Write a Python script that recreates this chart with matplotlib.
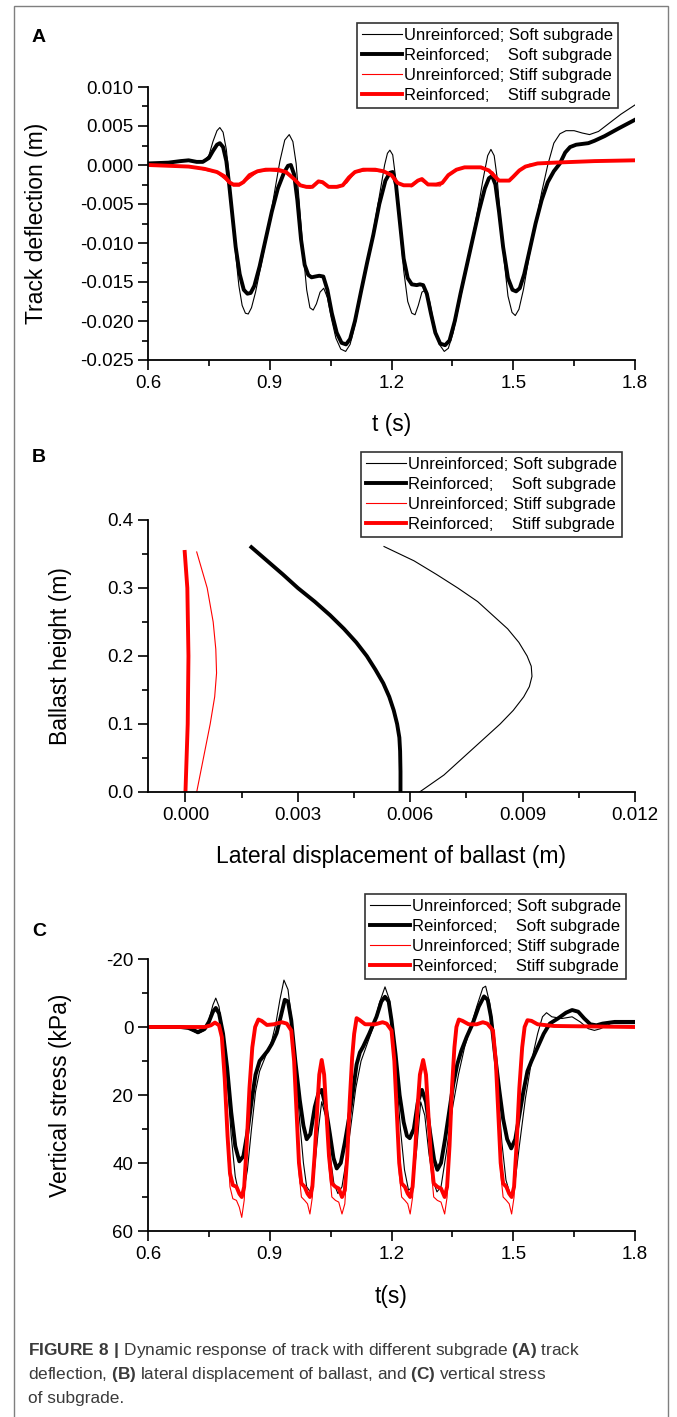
import numpy as np
import matplotlib
matplotlib.use('Agg')
import matplotlib.pyplot as plt
from matplotlib.patches import Rectangle
from matplotlib.ticker import MultipleLocator, FormatStrFormatter, FuncFormatter

plt.rcParams['font.family'] = ['Liberation Sans', 'DejaVu Sans']
plt.rcParams['axes.unicode_minus'] = False
plt.rcParams['mathtext.fontset'] = 'custom'
plt.rcParams['mathtext.rm'] = 'Liberation Sans'
plt.rcParams['mathtext.bf'] = 'Liberation Sans:bold'

labels = ['Unreinforced; Soft subgrade', 'Reinforced;    Soft subgrade',
          'Unreinforced; Stiff subgrade', 'Reinforced;    Stiff subgrade']

# ---- A: track deflection (m) vs t (s)
tA_us = [0.60, 0.65, 0.68, 0.70, 0.72, 0.735, 0.75, 0.76, 0.77, 0.777, 0.785, 0.793, 0.80, 0.808,
         0.816, 0.824, 0.832, 0.84, 0.847, 0.855, 0.865, 0.88, 0.895, 0.91, 0.925, 0.937, 0.948,
         0.957, 0.965, 0.973, 0.982, 0.991, 0.999, 1.007, 1.015, 1.024, 1.033, 1.042, 1.052, 1.063,
         1.075, 1.087, 1.098, 1.11, 1.125, 1.14, 1.155, 1.17, 1.183, 1.19, 1.196, 1.203, 1.211,
         1.22, 1.23, 1.24, 1.25, 1.258, 1.266, 1.275, 1.284, 1.294, 1.305, 1.318, 1.33, 1.34,
         1.352, 1.366, 1.38, 1.395, 1.41, 1.425, 1.437, 1.445, 1.453, 1.46, 1.468, 1.477, 1.487,
         1.497, 1.505, 1.514, 1.525, 1.54, 1.555, 1.57, 1.585, 1.60, 1.615, 1.63, 1.65, 1.67,
         1.688, 1.71, 1.735, 1.765, 1.80]
dA_us = [0.0002, 0.0003, 0.0005, 0.0006, 0.0004, 0.0004, 0.0012, 0.0030, 0.0044, 0.0048, 0.0042,
         0.0020, -0.0015, -0.0065, -0.0115, -0.0155, -0.0180, -0.0190, -0.0191, -0.0183, -0.0163,
         -0.0125, -0.0085, -0.0040, 0.0005, 0.0032, 0.0039, 0.0030, 0.0002, -0.0050, -0.0110,
         -0.0160, -0.0183, -0.0186, -0.0178, -0.0163, -0.0158, -0.0170, -0.0197, -0.0222, -0.0236,
         -0.0239, -0.0230, -0.0205, -0.0165, -0.0125, -0.0085, -0.0040, 0.0000, 0.0015, 0.0019,
         0.0013, -0.0020, -0.0075, -0.0135, -0.0175, -0.0190, -0.0192, -0.0180, -0.0163, -0.0160,
         -0.0175, -0.0205, -0.0230, -0.0239, -0.0235, -0.0215, -0.0180, -0.0145, -0.0105, -0.0065,
         -0.0020, 0.0012, 0.0020, 0.0012, -0.0015, -0.0065, -0.0120, -0.0168, -0.0189, -0.0193,
         -0.0185, -0.0160, -0.0115, -0.0075, -0.0035, 0.0000, 0.0028, 0.0040, 0.0044, 0.0044,
         0.0041, 0.0039, 0.0043, 0.0053, 0.0065, 0.0077]

tA_rs = [0.60, 0.65, 0.68, 0.70, 0.72, 0.735, 0.75, 0.76, 0.77, 0.777, 0.785, 0.793, 0.80, 0.808,
         0.816, 0.826, 0.836, 0.845, 0.853, 0.862, 0.875, 0.89, 0.905, 0.92, 0.935, 0.945, 0.952,
         0.96, 0.968, 0.977, 0.986, 0.995, 1.003, 1.012, 1.022, 1.032, 1.042, 1.053, 1.065, 1.077,
         1.088, 1.098, 1.11, 1.125, 1.14, 1.155, 1.17, 1.185, 1.196, 1.203, 1.211, 1.22, 1.23,
         1.24, 1.25, 1.262, 1.27, 1.278, 1.287, 1.297, 1.308, 1.32, 1.332, 1.343, 1.356, 1.37,
         1.385, 1.40, 1.415, 1.43, 1.44, 1.448, 1.456, 1.465, 1.475, 1.487, 1.498, 1.507, 1.516,
         1.527, 1.54, 1.555, 1.57, 1.585, 1.60, 1.615, 1.628, 1.64, 1.655, 1.67, 1.685, 1.70,
         1.725, 1.76, 1.80]
dA_rs = [0.0002, 0.0003, 0.0005, 0.0006, 0.0004, 0.0004, 0.0009, 0.0018, 0.0026, 0.0028, 0.0023,
         0.0005, -0.0025, -0.0065, -0.0105, -0.0140, -0.0160, -0.0165, -0.0164, -0.0155, -0.0130,
         -0.0095, -0.0060, -0.0030, -0.0010, -0.0001, 0.0000, -0.0012, -0.0045, -0.0095, -0.0128,
         -0.0141, -0.0144, -0.0143, -0.0142, -0.0143, -0.0160, -0.0190, -0.0215, -0.0228, -0.0230,
         -0.0223, -0.0200, -0.0162, -0.0125, -0.0090, -0.0050, -0.0020, -0.0010, -0.0009, -0.0025,
         -0.0070, -0.0120, -0.0145, -0.0153, -0.0154, -0.0153, -0.0154, -0.0165, -0.0190, -0.0215,
         -0.0229, -0.0231, -0.0225, -0.0200, -0.0165, -0.0130, -0.0095, -0.0060, -0.0030, -0.0017,
         -0.0014, -0.0025, -0.0060, -0.0105, -0.0145, -0.0160, -0.0162, -0.0158, -0.0140, -0.0110,
         -0.0075, -0.0045, -0.0022, -0.0008, 0.0002, 0.0016, 0.0023, 0.0026, 0.0027, 0.0028,
         0.0031, 0.0037, 0.0047, 0.0058]

tA_ut = [0.60, 0.70, 0.77, 0.80, 0.81, 0.825, 0.84, 0.87, 0.90, 0.94, 0.96, 0.98, 1.00, 1.02,
         1.03, 1.05, 1.07, 1.09, 1.11, 1.14, 1.18, 1.20, 1.22, 1.25, 1.27, 1.29, 1.32, 1.34, 1.37,
         1.42, 1.45, 1.465, 1.49, 1.51, 1.54, 1.60, 1.70, 1.80]
dA_ut = [0.0000, -0.0002, -0.0010, -0.0023, -0.0027, -0.0027, -0.0021, -0.0009, -0.0007, -0.0010,
         -0.0019, -0.0028, -0.0030, -0.0022, -0.0023, -0.0029, -0.0029, -0.0023, -0.0010, -0.0007,
         -0.0009, -0.0014, -0.0025, -0.0028, -0.0019, -0.0026, -0.0027, -0.0014, -0.0004, -0.0004,
         -0.0009, -0.0021, -0.0021, -0.0009, 0.0001, 0.0003, 0.0005, 0.0006]

tA_rt = [0.60, 0.65, 0.70, 0.74, 0.77, 0.79, 0.80, 0.81, 0.825, 0.835, 0.85, 0.87, 0.89, 0.92,
         0.94, 0.96, 0.975, 0.99, 1.005, 1.02, 1.03, 1.045, 1.065, 1.08, 1.095, 1.11, 1.13, 1.16,
         1.18, 1.20, 1.215, 1.23, 1.25, 1.265, 1.275, 1.29, 1.31, 1.325, 1.34, 1.36, 1.38, 1.42,
         1.44, 1.455, 1.465, 1.49, 1.50, 1.515, 1.53, 1.56, 1.60, 1.70, 1.80]
dA_rt = [0.0000, -0.0001, -0.0002, -0.0005, -0.0009, -0.0015, -0.0022, -0.0025, -0.0025, -0.0022,
         -0.0013, -0.0008, -0.0006, -0.0006, -0.0009, -0.0018, -0.0026, -0.0028, -0.0028, -0.0021,
         -0.0022, -0.0028, -0.0028, -0.0026, -0.0016, -0.0009, -0.0006, -0.0006, -0.0008, -0.0013,
         -0.0023, -0.0026, -0.0026, -0.0020, -0.0018, -0.0025, -0.0025, -0.0023, -0.0013, -0.0006,
         -0.0003, -0.0003, -0.0007, -0.0015, -0.0020, -0.0020, -0.0015, -0.0007, -0.0002, 0.0002,
         0.0003, 0.0005, 0.0006]

# ---- B: ballast height (m) vs lateral displacement (m)
hB_us = [0.0, 0.025, 0.05, 0.075, 0.10, 0.12, 0.14, 0.155, 0.17, 0.185, 0.20, 0.22, 0.24, 0.26,
         0.28, 0.30, 0.32, 0.34, 0.361]
xB_us = [0.00625, 0.0069, 0.0074, 0.0079, 0.0084, 0.00875, 0.00903, 0.00918, 0.00925, 0.00923,
         0.00912, 0.0089, 0.0086, 0.0082, 0.0078, 0.00727, 0.0067, 0.0061, 0.0053]
hB_rs = [0.0, 0.03, 0.06, 0.08, 0.10, 0.12, 0.14, 0.16, 0.18, 0.20, 0.22, 0.24, 0.26, 0.28, 0.30,
         0.32, 0.34, 0.36]
xB_rs = [0.00574, 0.00574, 0.00573, 0.00571, 0.00565, 0.00556, 0.00544, 0.00528, 0.00507,
         0.00484, 0.00456, 0.00423, 0.00386, 0.00345, 0.0030, 0.00260, 0.00218, 0.00176]
hB_ut = [0.0, 0.05, 0.10, 0.14, 0.175, 0.21, 0.25, 0.30, 0.353]
xB_ut = [0.0003, 0.00048, 0.00066, 0.00078, 0.00083, 0.00081, 0.00074, 0.00058, 0.00030]
hB_rt = [0.0, 0.1, 0.2, 0.3, 0.353]
xB_rt = [0.0000, 0.00006, 0.00008, 0.00005, -0.00002]

# ---- C: vertical stress (kPa) vs t (s)
tC_us = [0.60, 0.68, 0.70, 0.723, 0.74, 0.75, 0.76, 0.767, 0.775, 0.785, 0.795, 0.805, 0.815,
         0.825, 0.835, 0.845, 0.855, 0.865, 0.875, 0.885, 0.895, 0.905, 0.915, 0.925, 0.935,
         0.945, 0.953, 0.963, 0.974, 0.983, 0.991, 1.0, 1.01, 1.02, 1.028, 1.037, 1.048, 1.058,
         1.068, 1.078, 1.09, 1.10, 1.112, 1.125, 1.14, 1.155, 1.17, 1.184, 1.195, 1.203, 1.212,
         1.222, 1.232, 1.242, 1.252, 1.262, 1.272, 1.282, 1.292, 1.302, 1.312, 1.322, 1.335,
         1.35, 1.365, 1.38, 1.395, 1.41, 1.425, 1.432, 1.442, 1.452, 1.462, 1.472, 1.482, 1.493,
         1.503, 1.515, 1.53, 1.545, 1.56, 1.572, 1.582, 1.595, 1.62, 1.645, 1.665, 1.685, 1.70,
         1.715, 1.74, 1.80]
sC_us = [0, 0, 0.5, 2, 1, -2, -6.5, -8.5, -6, 2, 15, 32, 44, 49.5, 49, 42, 30, 19, 13, 10, 7,
         4, -1, -8, -13.8, -11, -3, 12, 28, 40, 47, 48.5, 42, 30, 22, 26, 37, 46, 49, 47, 38, 29,
         18, 10, 5, 0, -7, -11.8, -8, 0, 14, 30, 42, 48, 47, 36, 22, 26, 37, 45, 48.5, 47, 37,
         24, 14, 6, 0, -6, -11.5, -12, -7, 2, 18, 34, 45, 49.5, 47, 35, 21, 10, 2, -3, -4.2, -3,
         -2.5, -3, -1.5, 0.5, 1, 0.5, -1, -1]

tC_rs = [0.60, 0.68, 0.70, 0.723, 0.74, 0.75, 0.76, 0.767, 0.775, 0.785, 0.795, 0.805, 0.815,
         0.825, 0.835, 0.845, 0.855, 0.865, 0.875, 0.885, 0.895, 0.905, 0.917, 0.927, 0.937,
         0.945, 0.953, 0.963, 0.974, 0.983, 0.991, 1.0, 1.011, 1.02, 1.028, 1.037, 1.048, 1.057,
         1.065, 1.075, 1.085, 1.095, 1.105, 1.114, 1.122, 1.13, 1.145, 1.163, 1.175, 1.184, 1.193,
         1.20, 1.21, 1.22, 1.23, 1.238, 1.245, 1.255, 1.265, 1.275, 1.285, 1.295, 1.305, 1.313,
         1.322, 1.332, 1.342, 1.352, 1.362, 1.372, 1.385, 1.40, 1.415, 1.428, 1.437, 1.445, 1.455,
         1.465, 1.475, 1.485, 1.495, 1.505, 1.515, 1.525, 1.535, 1.545, 1.56, 1.575, 1.59, 1.61,
         1.63, 1.645, 1.66, 1.675, 1.69, 1.705, 1.72, 1.75, 1.80]
sC_rs = [0, 0, 0.3, 1.5, 0.5, -1.5, -4.5, -5.6, -4, 2, 12, 25, 35, 39.5, 38, 31, 22, 14, 10,
         8.5, 7, 5, 1.8, -3, -8, -7.5, -2, 10, 21.5, 29, 33, 31.5, 23.5, 19.5, 18.5, 23, 31.3,
         38.5, 41.6, 40, 34, 27, 19, 11, 7.5, 5.8, 2, -3, -7.5, -8.9, -7.5, -2, 8, 20, 28, 32,
         32.7, 30, 22, 18.5, 22, 31, 39, 42, 40, 33, 25, 17, 11, 7, 3, -1, -6, -9, -8, -3, 8, 18,
         27, 33, 35.7, 33, 26, 19, 13, 10, 6, 2, -1, -2.5, -4.2, -5, -4.5, -2.5, -0.8, -0.5, -1,
         -1.5, -1.5]

tC_ut = [0.60, 0.74, 0.755, 0.765, 0.775, 0.782, 0.789, 0.796, 0.802, 0.809, 0.818, 0.825, 0.831,
         0.837, 0.843, 0.85, 0.857, 0.864, 0.872, 0.88, 0.893, 0.91, 0.93, 0.942, 0.953, 0.96,
         0.966, 0.972, 0.978, 0.986, 0.993, 0.999, 1.005, 1.011, 1.017, 1.022, 1.028, 1.034, 1.04,
         1.046, 1.053, 1.062, 1.07, 1.078, 1.085, 1.091, 1.097, 1.103, 1.108, 1.114, 1.122, 1.135,
         1.16, 1.178, 1.188, 1.20, 1.207, 1.213, 1.219, 1.225, 1.233, 1.24, 1.246, 1.252, 1.258,
         1.264, 1.27, 1.278, 1.285, 1.291, 1.297, 1.304, 1.313, 1.322, 1.331, 1.337, 1.343, 1.349,
         1.355, 1.36, 1.366, 1.375, 1.39, 1.41, 1.425, 1.436, 1.45, 1.457, 1.463, 1.469, 1.475,
         1.483, 1.49, 1.496, 1.502, 1.508, 1.515, 1.522, 1.528, 1.535, 1.545, 1.56, 1.60, 1.80]
sC_ut = [0, 0, -0.5,
         -1.3, -0.5, 3, 16, 35, 47, 50.5, 51, 53, 56, 51, 37, 18, 6, 0, -2.2,
         -1.8, -0.6, -0.8, -1.4, -1,
         1, 11, 27, 43, 50, 51, 52, 55, 50, 38, 24, 14, 9.7, 14, 27, 41, 50, 51, 51.5, 55, 52,
         40, 22, 9, 2, -2.6,
         -2, -0.8, -0.8, -1.4, -1,
         1, 11, 27, 43, 50, 51, 52, 55, 50, 38, 24, 14, 9.7, 14, 27, 41, 50, 51, 51.5, 55, 50,
         36, 18, 6, 0, -2.2,
         -1.8, -0.8, -0.8, -1.4, -1,
         1, 11, 27, 43, 50, 51, 52, 55, 50, 36, 18, 6, 0, -2,
         -1.8, -0.8, -0.3, 0]

tC_rt = tC_ut
sC_rt = [0, 0, -0.5,
         -1.3, -0.5, 3, 15, 32, 43, 46.5, 47, 49, 50, 47, 35, 18, 6, 0, -2.2,
         -1.8, -0.6, -0.8, -1.4, -1,
         1, 10, 25, 40, 46, 47, 49, 50, 47, 37, 24, 14, 9.7, 14, 26, 38, 46, 47, 47.5, 50, 48,
         38, 22, 9, 2, -2.6,
         -2, -0.8, -0.8, -1.4, -1,
         1, 10, 25, 40, 46, 47, 49, 50, 47, 37, 24, 14, 9.7, 14, 26, 38, 46, 47, 47.5, 50, 47,
         35, 18, 6, 0, -2.2,
         -1.8, -0.8, -0.8, -1.4, -1,
         1, 10, 25, 40, 46, 47, 49, 50, 47, 35, 18, 6, 0, -2,
         -1.8, -0.8, -0.3, 0]

fig = plt.figure(figsize=(6.77, 14.17), dpi=100)

styles = [dict(color='black', lw=0.8), dict(color='black', lw=2.8),
          dict(color='red', lw=0.8), dict(color='red', lw=2.8)]


def style(ax):
    for s in ['top', 'right']:
        ax.spines[s].set_visible(False)
    for s in ['left', 'bottom']:
        ax.spines[s].set_linewidth(1.3)
    ax.tick_params(which='major', direction='out', length=7.5, width=1.2, labelsize=13.5, pad=3)
    ax.tick_params(which='minor', direction='out', length=4, width=1.2)


def legend(ax, x1, y1):
    lg = ax.legend(loc='upper right', bbox_to_anchor=(x1 / 677, 1 - y1 / 1417),
                   bbox_transform=fig.transFigure, fontsize=12, frameon=True,
                   fancybox=False, borderaxespad=0, handlelength=2.4, handletextpad=0.15,
                   labelspacing=0.3, borderpad=0.3)
    lg.get_frame().set_edgecolor('black')
    lg.get_frame().set_linewidth(1.2)


axA = fig.add_axes([148 / 677, 1 - 360 / 1417, 487 / 677, 273 / 1417])
for (t, d), st, lb in zip([(tA_us, dA_us), (tA_rs, dA_rs), (tA_ut, dA_ut), (tA_rt, dA_rt)], styles, labels):
    axA.plot(t, d, label=lb, solid_joinstyle='round', **st)
axA.set_xlim(0.6, 1.8)
axA.set_ylim(-0.025, 0.010)
axA.xaxis.set_major_locator(MultipleLocator(0.3))
axA.xaxis.set_minor_locator(MultipleLocator(0.15))
axA.yaxis.set_major_locator(MultipleLocator(0.005))
axA.yaxis.set_minor_locator(MultipleLocator(0.0025))
axA.xaxis.set_major_formatter(FormatStrFormatter('%.1f'))
axA.yaxis.set_major_formatter(FuncFormatter(lambda v, p: '0.000' if abs(v) < 1e-9 else '%.3f' % v))
style(axA)
axA.set_xlabel('t (s)', fontsize=16.5)
axA.set_ylabel('Track deflection (m)', fontsize=16.5)
axA.xaxis.set_label_coords(0.5, -0.195)
axA.yaxis.set_label_coords(-0.205, 0.5)
legend(axA, 618, 23)

axB = fig.add_axes([148 / 677, 1 - 792 / 1417, 487 / 677, 272 / 1417])
for (x, h), st, lb in zip([(xB_us, hB_us), (xB_rs, hB_rs), (xB_ut, hB_ut), (xB_rt, hB_rt)], styles, labels):
    axB.plot(x, h, label=lb, solid_joinstyle='round', **st)
axB.set_xlim(-0.001, 0.012)
axB.set_ylim(0, 0.4)
axB.set_xticks([0.0, 0.003, 0.006, 0.009, 0.012])
axB.set_xticks([0.0015, 0.0045, 0.0075, 0.0105], minor=True)
axB.yaxis.set_major_locator(MultipleLocator(0.1))
axB.yaxis.set_minor_locator(MultipleLocator(0.05))
axB.xaxis.set_major_formatter(FormatStrFormatter('%.3f'))
axB.yaxis.set_major_formatter(FormatStrFormatter('%.1f'))
style(axB)
axB.set_xlabel('Lateral displacement of ballast (m)', fontsize=16.5)
axB.set_ylabel('Ballast height (m)', fontsize=16.5)
axB.xaxis.set_label_coords(0.5, -0.195)
axB.yaxis.set_label_coords(-0.156, 0.5)
legend(axB, 622, 452)

axC = fig.add_axes([148 / 677, 1 - 1231 / 1417, 487 / 677, 272 / 1417])
for (t, s), st, lb in zip([(tC_us, sC_us), (tC_rs, sC_rs), (tC_ut, sC_ut), (tC_rt, sC_rt)], styles, labels):
    axC.plot(t, s, label=lb, solid_joinstyle='round', **st)
axC.set_xlim(0.6, 1.8)
axC.set_ylim(60, -20)
axC.xaxis.set_major_locator(MultipleLocator(0.3))
axC.xaxis.set_minor_locator(MultipleLocator(0.15))
axC.yaxis.set_major_locator(MultipleLocator(20))
axC.yaxis.set_minor_locator(MultipleLocator(10))
axC.xaxis.set_major_formatter(FormatStrFormatter('%.1f'))
axC.yaxis.set_major_formatter(FormatStrFormatter('%d'))
style(axC)
axC.set_xlabel('t(s)', fontsize=16.5)
axC.set_ylabel('Vertical stress (kPa)', fontsize=16.5)
axC.xaxis.set_label_coords(0.5, -0.2)
axC.yaxis.set_label_coords(-0.156, 0.5)
legend(axC, 626, 894)

for lt, yy in [('A', 37), ('B', 457), ('C', 932)]:
    fig.text(39 / 677, 1 - yy / 1417, lt, fontsize=14, fontweight='bold', ha='center', va='center')

caption = [r'$\mathbf{FIGURE\ 8\ |}$ Dynamic response of track with different subgrade $\mathbf{(A)}$ track',
           r'deflection, $\mathbf{(B)}$ lateral displacement of ballast, and $\mathbf{(C)}$ vertical stress',
           'of subgrade.']
for line, yy in zip(caption, [1350, 1374, 1398]):
    fig.text(28 / 677, 1 - yy / 1417, line, fontsize=12.4, color='#3a3a3a', ha='left', va='center')

fig.add_artist(Rectangle((14 / 677, -0.01), 654 / 677, 1.01 - 6 / 1417, transform=fig.transFigure,
                         fill=False, edgecolor='#7f7f7f', lw=1.0))

fig.savefig('out.png', dpi=100)
